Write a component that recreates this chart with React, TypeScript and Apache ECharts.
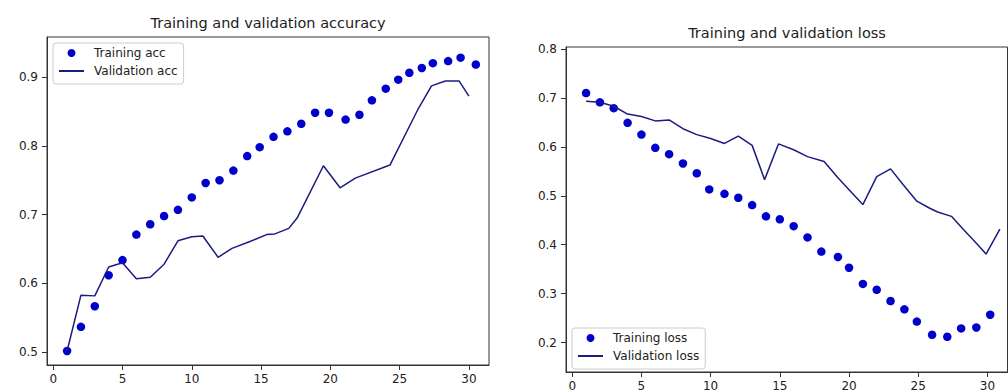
import React, { useEffect, useRef } from 'react';
import * as echarts from 'echarts';

// Left chart: accuracy
const accTrainEpochs = [1, 2, 3, 4, 5, 6, 7, 8, 9, 10, 11, 12, 13, 14, 14.9, 15.9, 16.9, 17.9, 18.9, 19.9, 21.1, 22.1, 23, 24, 24.9, 25.7, 26.6, 27.4, 28.5, 29.4, 30.5];
const accTrainValues = [0.502, 0.537, 0.567, 0.612, 0.634, 0.671, 0.686, 0.698, 0.707, 0.725, 0.746, 0.75, 0.764, 0.785, 0.798, 0.813, 0.821, 0.832, 0.848, 0.848, 0.838, 0.845, 0.866, 0.883, 0.896, 0.906, 0.913, 0.92, 0.923, 0.928, 0.918];
const accValEpochs = [1, 2, 3, 4, 5, 6, 7, 8, 9, 10, 10.8, 11.9, 12.9, 14.2, 15.4, 16, 17, 17.6, 19.5, 20.7, 21.8, 24.3, 26.3, 27.3, 28.3, 29.3, 30];
const accValValues = [0.502, 0.583, 0.582, 0.624, 0.63, 0.607, 0.609, 0.628, 0.662, 0.668, 0.669, 0.638, 0.651, 0.661, 0.671, 0.672, 0.68, 0.695, 0.771, 0.739, 0.753, 0.772, 0.852, 0.887, 0.894, 0.894, 0.872];

// Right chart: loss
const lossTrainEpochs = [1, 2, 3, 4, 5, 6, 7, 8, 9, 9.9, 11, 12, 13, 14, 15, 16, 17, 18, 19.2, 20, 21, 22, 23, 24, 24.9, 26, 27.1, 28.1, 29.2, 30.2];
const lossTrainValues = [0.71, 0.691, 0.679, 0.649, 0.625, 0.598, 0.585, 0.566, 0.546, 0.513, 0.504, 0.496, 0.481, 0.458, 0.452, 0.438, 0.415, 0.386, 0.375, 0.353, 0.32, 0.308, 0.285, 0.268, 0.243, 0.216, 0.212, 0.229, 0.231, 0.257];
const lossValEpochs = [1, 2, 3, 4, 5, 6, 7, 8, 9, 10, 11, 12, 13, 13.9, 14.9, 16, 17, 18.2, 19.2, 20.2, 21, 22, 23, 23.9, 24.9, 25.8, 26.4, 27.4, 28.2, 29.2, 29.9, 30.9];
const lossValValues = [0.693, 0.691, 0.683, 0.667, 0.662, 0.653, 0.655, 0.637, 0.625, 0.617, 0.607, 0.622, 0.603, 0.533, 0.606, 0.594, 0.58, 0.57, 0.537, 0.506, 0.482, 0.539, 0.555, 0.523, 0.489, 0.475, 0.467, 0.458, 0.433, 0.403, 0.381, 0.432];

const xTicks = [0, 5, 10, 15, 20, 25, 30];
const accTicks = [0.5, 0.6, 0.7, 0.8, 0.9];
const lossTicks = [0.2, 0.3, 0.4, 0.5, 0.6, 0.7, 0.8];

const pairs = (xs: number[], ys: number[]) => xs.map((x, i) => [x, ys[i]]);

export default function App() {
  const ref = useRef<HTMLDivElement>(null);
  useEffect(() => {
    const chart = echarts.init(ref.current!, null, { renderer: 'svg' });
    const font = 'DejaVu Sans';
    const axisColor = '#333333';
    const textColor = '#222222';
    const dotColor = '#0000cd';
    const lineColor = '#1c1c80';

    const xAxis = (gridIndex: number) => ({
      type: 'value',
      gridIndex,
      min: -0.45,
      max: 31.45,
      axisLine: { show: true, onZero: false, lineStyle: { color: axisColor, width: 1 } },
      axisTick: { show: true, length: 5, customValues: xTicks, lineStyle: { color: axisColor } },
      axisLabel: { customValues: xTicks, margin: 8, fontFamily: font, fontSize: 12, color: textColor, formatter: (v: number) => String(v) },
      splitLine: { show: false },
    });
    const yAxis = (gridIndex: number, min: number, max: number, ticks: number[]) => ({
      type: 'value',
      gridIndex,
      min,
      max,
      axisLine: { show: true, onZero: false, lineStyle: { color: axisColor, width: 1 } },
      axisTick: { show: true, length: 5, customValues: ticks, lineStyle: { color: axisColor } },
      axisLabel: { customValues: ticks, margin: 9, fontFamily: font, fontSize: 12, color: textColor, formatter: (v: number) => v.toFixed(1) },
      splitLine: { show: false },
    });
    const legend = (left: number, top: number, dotName: string, lineName: string) => ({
      orient: 'vertical',
      left,
      top,
      data: [
        { name: dotName },
        { name: lineName, itemStyle: { opacity: 0 } },
      ],
      itemWidth: 25,
      itemHeight: 8,
      itemGap: 4,
      padding: [3, 6, 6, 5],
      borderColor: '#cccccc',
      borderWidth: 1,
      borderRadius: 3,
      backgroundColor: 'rgba(255,255,255,0.8)',
      textStyle: { fontFamily: font, fontSize: 12, color: textColor, lineHeight: 14, padding: [0, 0, 0, 5] },
    });

    chart.setOption({
      animation: false,
      backgroundColor: '#ffffff',
      title: [
        { text: 'Training and validation accuracy', left: 268, top: 15.5, textAlign: 'center', padding: 0, textStyle: { fontFamily: font, fontSize: 14.5, fontWeight: 'normal', color: textColor } },
        { text: 'Training and validation loss', left: 787, top: 25.5, textAlign: 'center', padding: 0, textStyle: { fontFamily: font, fontSize: 14.5, fontWeight: 'normal', color: textColor } },
      ],
      grid: [
        { left: 47, top: 37, width: 442, height: 328, show: true, borderColor: axisColor, borderWidth: 1, backgroundColor: 'transparent' },
        { left: 566, top: 47, width: 441.5, height: 328, show: true, borderColor: axisColor, borderWidth: 1, backgroundColor: 'transparent' },
      ],
      xAxis: [xAxis(0), xAxis(1)],
      yAxis: [yAxis(0, 0.4816, 0.958, accTicks), yAxis(1, 0.14, 0.804, lossTicks)],
      legend: [
        legend(53, 43, 'Training acc', 'Validation acc'),
        legend(572, 328, 'Training loss', 'Validation loss'),
      ],
      series: [
        { name: 'Training acc', type: 'scatter', xAxisIndex: 0, yAxisIndex: 0, data: pairs(accTrainEpochs, accTrainValues), symbol: 'circle', symbolSize: 8.5, itemStyle: { color: dotColor, opacity: 1 }, z: 2 },
        { name: 'Validation acc', type: 'line', xAxisIndex: 0, yAxisIndex: 0, data: pairs(accValEpochs, accValValues), symbol: 'none', lineStyle: { color: lineColor, width: 1.5 }, itemStyle: { color: lineColor }, z: 3 },
        { name: 'Training loss', type: 'scatter', xAxisIndex: 1, yAxisIndex: 1, data: pairs(lossTrainEpochs, lossTrainValues), symbol: 'circle', symbolSize: 8.5, itemStyle: { color: dotColor, opacity: 1 }, z: 2 },
        { name: 'Validation loss', type: 'line', xAxisIndex: 1, yAxisIndex: 1, data: pairs(lossValEpochs, lossValValues), symbol: 'none', lineStyle: { color: lineColor, width: 1.5 }, itemStyle: { color: lineColor }, z: 3 },
      ],
    });
    return () => chart.dispose();
  }, []);
  return <div ref={ref} style={{ position: 'fixed', left: 0, top: 0, width: 1008, height: 392, background: '#ffffff' }} />;
}
